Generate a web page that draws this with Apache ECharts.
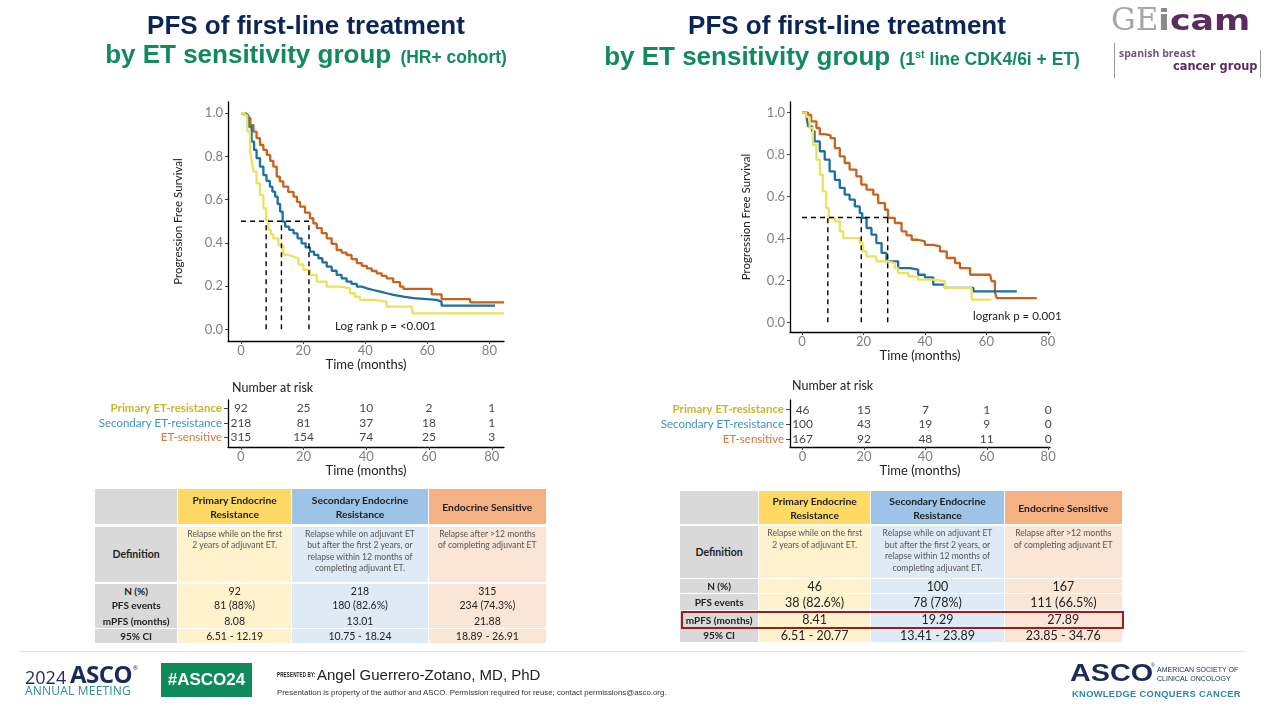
<!DOCTYPE html>
<html><head><meta charset="utf-8">
<script src="https://cdn.jsdelivr.net/npm/echarts@6.0.0/dist/echarts.min.js"></script>
<style>
html,body{margin:0;padding:0;background:#fff;}
#wrap{position:relative;width:1268px;height:714px;overflow:hidden;background:#fff;}
#chart{position:absolute;left:0;top:0;width:1268px;height:714px;}
.abs{position:absolute;white-space:nowrap;}
.ttl{position:absolute;width:1000px;text-align:center;font-family:'Liberation Sans',Arial,sans-serif;font-weight:bold;font-size:26px;line-height:26px;white-space:nowrap;}
.navy{color:#0b2559;}
.green{color:#138a5e;}
.cell{position:absolute;box-sizing:border-box;font-family:Lato,'Noto Sans',sans-serif;color:#222;display:flex;align-items:center;justify-content:center;text-align:center;white-space:pre-line;}
</style></head>
<body><div id="wrap">
<div id="chart"></div>
<div id="overlay"></div>
</div>
<script>
// ---------------- DATA ----------------
const groups = ['Primary ET-resistance', 'Secondary ET-resistance', 'ET-sensitive'];
const timeTicks = [0, 20, 40, 60, 80];
const survTicks = [0, 0.2, 0.4, 0.6, 0.8, 1.0];

// Left panel (HR+ cohort) – Kaplan-Meier estimates
const leftPrimaryT = [0,1.3,2,2.9,3.5,4,5,6.1,7.2,8.1,8.8,9.6,10.4,12,13.6,15.2,16.9,18.5,20.1,22.2,24.4,27.6,31.9,35.1,36.7,38.3,42.6,46.9,55,55.3,84.7];
const leftPrimaryS = [1,0.99,0.915,0.823,0.775,0.73,0.676,0.622,0.56,0.506,0.46,0.44,0.421,0.39,0.344,0.337,0.329,0.3,0.275,0.252,0.221,0.198,0.19,0.167,0.15,0.136,0.128,0.105,0.097,0.074,0.074];
const leftSecondaryT = [0,1.6,2.4,3.4,4.2,5.0,6.1,7.2,8.2,9.3,10.1,11,11.8,12.6,13.4,14.2,15.5,16.9,18.2,19.5,20.8,22.2,23.5,24.9,26.2,27.6,29.2,30.8,32.4,34,35.6,37.3,38.9,40.5,42.6,44.8,46.9,49.1,52.3,55.5,63,64.6,81.8];
const leftSecondaryS = [1,0.99,0.938,0.869,0.83,0.792,0.753,0.714,0.687,0.66,0.637,0.614,0.58,0.545,0.498,0.475,0.46,0.444,0.421,0.398,0.379,0.36,0.345,0.329,0.31,0.29,0.271,0.252,0.236,0.221,0.21,0.198,0.19,0.182,0.175,0.167,0.159,0.151,0.144,0.136,0.128,0.11,0.11];
const leftSensitiveT = [0,1,2,3,4,5,6.1,7.2,8.3,9.4,10.4,11.5,12.5,13.6,15.2,16.9,18,19,20.6,22.2,23.3,24.4,26,27.6,29.2,30.8,32.4,34,35.6,37.3,38.9,40.5,42.1,43.7,45.3,46.9,49,51.2,52.3,61.4,64.6,73.8,84.7];
const leftSensitiveS = [1,0.995,0.977,0.945,0.915,0.885,0.853,0.83,0.807,0.78,0.753,0.707,0.685,0.66,0.636,0.614,0.59,0.568,0.54,0.514,0.49,0.468,0.445,0.421,0.395,0.367,0.355,0.344,0.325,0.306,0.294,0.282,0.27,0.259,0.247,0.236,0.218,0.198,0.187,0.162,0.14,0.125,0.125];
const leftMedians = [8.08, 13.01, 21.88];
const leftRisk = [[92,25,10,2,1],[218,81,37,18,1],[315,154,74,25,3]];

// Right panel (1st line CDK4/6i + ET)
const rightPrimaryT = [0,1.4,2.5,3.6,4.7,5.8,6.8,7.9,8.7,10.7,12.3,13.4,17.7,18.8,19.9,21,24.2,28,30.2,31.3,34.6,37.8,42.7,46.5,55.2,61.7];
const rightPrimaryS = [1,0.98,0.927,0.847,0.776,0.704,0.625,0.545,0.498,0.482,0.434,0.402,0.402,0.378,0.339,0.315,0.291,0.283,0.259,0.235,0.219,0.204,0.196,0.164,0.108,0.108];
const rightSecondaryT = [0,1.4,2,3.3,4.1,5.8,7.4,9,10.7,12.3,13.9,15.5,17.2,18.8,19.6,21,22.6,24.2,25.9,27.5,30.2,31.3,35.1,37.8,40,42.7,46.5,55.8,69.9];
const rightSecondaryS = [1,0.987,0.935,0.911,0.863,0.816,0.776,0.72,0.68,0.641,0.609,0.585,0.553,0.521,0.498,0.45,0.418,0.378,0.331,0.291,0.291,0.259,0.251,0.227,0.215,0.18,0.164,0.148,0.148];
const rightSensitiveT = [0,2,3,4.7,5.8,7.4,9.3,10.7,12.3,13.9,15.5,17.7,19.3,21,23.2,24.8,27,28,30.2,32.4,34,35.7,37.8,40,42.7,44.9,47.1,49.8,51.4,54.7,61.2,61.7,62.8,63.4,76.4];
const rightSensitiveS = [1,0.99,0.959,0.927,0.898,0.892,0.879,0.831,0.792,0.76,0.728,0.696,0.657,0.633,0.609,0.569,0.537,0.498,0.474,0.434,0.415,0.394,0.386,0.37,0.362,0.339,0.307,0.283,0.259,0.227,0.227,0.196,0.14,0.116,0.116];
const rightMedians = [8.41, 19.29, 27.89];
const rightRisk = [[46,15,7,1,0],[100,43,19,9,0],[167,92,48,11,0]];

const leftLogRank = 'Log rank p = <0.001';
const rightLogRank = 'logrank p = 0.001';

// Tables
const tableHeaders = ['Primary Endocrine\nResistance', 'Secondary Endocrine\nResistance', 'Endocrine Sensitive'];
const tableRowLabels = ['Definition', 'N (%)', 'PFS events', 'mPFS (months)', '95% CI'];
const definitions = ['Relapse while on the first\n2 years of adjuvant ET.', 'Relapse while on adjuvant ET\nbut after the first 2 years, or\nrelapse within 12 months of\ncompleting adjuvant ET.', 'Relapse after >12 months\nof completing adjuvant ET'];
const leftN = ['92', '218', '315'];
const leftEvents = ['81 (88%)', '180 (82.6%)', '234 (74.3%)'];
const leftMPFS = ['8.08', '13.01', '21.88'];
const leftCI = ['6.51 - 12.19', '10.75 - 18.24', '18.89 - 26.91'];
const rightN = ['46', '100', '167'];
const rightEvents = ['38 (82.6%)', '78 (78%)', '111 (66.5%)'];
const rightMPFS = ['8.41', '19.29', '27.89'];
const rightCI = ['6.51 - 20.77', '13.41 - 23.89', '23.85 - 34.76'];

// ---------------- STYLE ----------------
const FONT = 'Lato, "Noto Sans", sans-serif';
const lineColors = ['#ebe15b', '#1b6fa2', '#c8631e'];
const labelColors = ['#c9b72c', '#3c92c2', '#d4773a'];

// ---------------- CHART ----------------
const chart = echarts.init(document.getElementById('chart'), null, {renderer: 'canvas'});

function xAxisCfg(gi, min, max, gap) {
  return {
    type: 'value', gridIndex: gi, min: min, max: max,
    axisLine: {show: true, onZero: false, lineStyle: {color: '#000', width: 1.3}},
    axisTick: {show: true, customValues: timeTicks, length: 3, lineStyle: {color: '#444'}},
    axisLabel: {customValues: timeTicks, color: '#808080', fontSize: 13, fontFamily: FONT, margin: 3},
    splitLine: {show: false},
    name: 'Time (months)', nameLocation: 'middle', nameGap: gap,
    nameTextStyle: {color: '#222', fontSize: 13, fontFamily: FONT}
  };
}
function kmYAxis(gi, min, max, gap) {
  return {
    type: 'value', gridIndex: gi, min: min, max: max,
    axisLine: {show: true, onZero: false, lineStyle: {color: '#000', width: 1.3}},
    axisTick: {show: true, customValues: survTicks, length: 3, lineStyle: {color: '#444'}},
    axisLabel: {customValues: survTicks, formatter: v => v.toFixed(1), color: '#808080', fontSize: 13, fontFamily: FONT, margin: 5},
    splitLine: {show: false},
    name: 'Progression Free Survival', nameLocation: 'middle', nameGap: gap, nameRotate: 90,
    nameTextStyle: {color: '#222', fontSize: 11.5, fontFamily: FONT}
  };
}
const rich = {};
groups.forEach((g, i) => { rich['g' + i] = {color: labelColors[i], fontSize: 11.5, fontFamily: FONT, fontWeight: i === 0 ? 'bold' : 'normal'}; });
function riskYAxis(gi, min, max) {
  return {
    type: 'value', gridIndex: gi, inverse: true, min: min, max: max,
    axisLine: {show: true, onZero: false, lineStyle: {color: '#000', width: 1.3}},
    axisTick: {show: true, customValues: [0, 1, 2], length: 4, lineStyle: {color: '#444'}},
    axisLabel: {customValues: [0, 1, 2], formatter: v => '{g' + v + '|' + groups[v] + '}', rich: rich, margin: 6},
    splitLine: {show: false}
  };
}
function km(name, T, S, color, ai) {
  return {type: 'line', name: name, xAxisIndex: ai, yAxisIndex: ai, step: 'end', symbol: 'none',
    data: T.map((t, i) => [t, S[i]]), lineStyle: {color: color, width: 2.3}, itemStyle: {color: color},
    silent: true, animation: false, z: 3};
}
function medianLines(meds, ai) {
  const out = [];
  const dash = {color: '#000', width: 1.4, type: [5, 4]};
  out.push({type: 'line', xAxisIndex: ai, yAxisIndex: ai, symbol: 'none', silent: true, animation: false, z: 4,
    data: [[0, 0.5], [Math.max.apply(null, meds), 0.5]], lineStyle: dash});
  meds.forEach(m => out.push({type: 'line', xAxisIndex: ai, yAxisIndex: ai, symbol: 'none', silent: true, animation: false, z: 4,
    data: [[m, 0], [m, 0.5]], lineStyle: dash}));
  return out;
}
function riskSeries(risk, ai) {
  const data = [];
  risk.forEach((row, g) => row.forEach((n, k) => data.push([timeTicks[k], g, n])));
  return {type: 'scatter', xAxisIndex: ai, yAxisIndex: ai, symbolSize: 1, itemStyle: {color: 'rgba(0,0,0,0)'},
    silent: true, animation: false, data: data,
    label: {show: true, position: 'inside', formatter: p => String(p.value[2]), color: '#111', fontSize: 12, fontFamily: FONT}};
}

const option = {
  animation: false,
  backgroundColor: 'transparent',
  grid: [
    {left: 228, top: 102, width: 276, height: 239, outerBoundsMode: 'none', containLabel: false},
    {left: 790, top: 102, width: 260, height: 230, outerBoundsMode: 'none', containLabel: false},
    {left: 228, top: 400, width: 276, height: 47, outerBoundsMode: 'none', containLabel: false},
    {left: 790, top: 400, width: 260, height: 47, outerBoundsMode: 'none', containLabel: false}
  ],
  xAxis: [
    xAxisCfg(0, -4.2, 84.7, 14),
    xAxisCfg(1, -3.9, 80.7, 14),
    xAxisCfg(2, -4.1, 83.9, 17),
    xAxisCfg(3, -4.1, 80.6, 17)
  ],
  yAxis: [
    kmYAxis(0, -0.054, 1.052, 44),
    kmYAxis(1, -0.046, 1.051, 38),
    riskYAxis(2, -0.57, 2.65),
    riskYAxis(3, -0.655, 2.54)
  ],
  series: [
    km(groups[2], leftSensitiveT, leftSensitiveS, lineColors[2], 0),
    km(groups[1], leftSecondaryT, leftSecondaryS, lineColors[1], 0),
    km(groups[0], leftPrimaryT, leftPrimaryS, lineColors[0], 0),
    km(groups[2], rightSensitiveT, rightSensitiveS, lineColors[2], 1),
    km(groups[1], rightSecondaryT, rightSecondaryS, lineColors[1], 1),
    km(groups[0], rightPrimaryT, rightPrimaryS, lineColors[0], 1),
    ...medianLines(leftMedians, 0),
    ...medianLines(rightMedians, 1),
    riskSeries(leftRisk, 2),
    riskSeries(rightRisk, 3)
  ],
  graphic: [
    {type: 'text', left: 232, top: 381, style: {text: 'Number at risk', fill: '#222', font: '12.5px ' + FONT}},
    {type: 'text', left: 792, top: 379, style: {text: 'Number at risk', fill: '#222', font: '12.5px ' + FONT}},
    {type: 'text', left: 335, top: 320, style: {text: leftLogRank, fill: '#222', font: '11.5px ' + FONT}},
    {type: 'text', left: 973, top: 310, style: {text: rightLogRank, fill: '#222', font: '11.5px ' + FONT}}
  ]
};
chart.setOption(option);

// ---------------- SLIDE DECORATION (HTML) ----------------
const ov = document.getElementById('overlay');
function add(html) { ov.insertAdjacentHTML('beforeend', html); }

// Titles
add('<div class="ttl navy" style="left:' + (306 - 500) + 'px;top:12px;">PFS of first-line treatment</div>');
add('<div class="ttl green" style="left:' + (306 - 500) + 'px;top:41px;">by ET sensitivity group <span style="font-size:17.5px;margin-left:2px;">(HR+ cohort)</span></div>');
add('<div class="ttl navy" style="left:' + (847 - 500) + 'px;top:12px;">PFS of first-line treatment</div>');
add('<div class="ttl green" style="left:' + (842 - 500) + 'px;top:41px;">by ET sensitivity group <span style="font-size:17.5px;margin-left:2px;">(1<sup style="font-size:11px;vertical-align:7px;">st</sup> line CDK4/6i + ET)</span></div>');

// GEICAM logo
add('<div class="abs" style="left:1111px;top:1px;line-height:36px;"><span style="font-family:\'DejaVu Serif\',serif;font-size:31px;color:#a6a6a6;">GE</span><span style="display:inline-block;font-family:\'DejaVu Sans\',sans-serif;font-weight:bold;font-size:29px;transform:scaleX(1.2);transform-origin:0 50%;"><span style="color:#8a8a8a;">i</span><span style="color:#5b2c5f;">cam</span></span></div>');
add('<div class="abs" style="left:1114px;top:43px;width:1px;height:35px;background:#9a9a9a;"></div>');
add('<div class="abs" style="left:1260px;top:50px;width:1px;height:28px;background:#9a9a9a;"></div>');
add('<div class="abs" style="left:1119px;top:46px;font-family:\'Open Sans\',sans-serif;font-weight:bold;font-size:10.5px;color:#6d5a72;">spanish breast</div>');
add('<div class="abs" style="left:1173px;top:59px;font-family:\'DejaVu Sans\',sans-serif;font-weight:bold;font-size:11.4px;color:#5b2c5f;">cancer group</div>');

// Tables
const headBg = ['#ffd966', '#9dc3e6', '#f4b183'];
const bodyBg = ['#fff2cc', '#deebf7', '#fbe5d6'];
const labelBg = '#d9d9d9';
function buildTable(cols, rows, vals, valSize, defSize) {
  add('<div class="cell" style="left:' + cols[0][0] + 'px;top:' + rows[0][0] + 'px;width:' + (cols[0][1] - cols[0][0]) + 'px;height:' + (rows[0][1] - rows[0][0]) + 'px;background:' + labelBg + ';"></div>');
  for (let c = 0; c < 3; c++) {
    const cx = cols[c + 1];
    add('<div class="cell" style="left:' + cx[0] + 'px;top:' + rows[0][0] + 'px;width:' + (cx[1] - cx[0]) + 'px;height:' + (rows[0][1] - rows[0][0]) + 'px;background:' + headBg[c] + ';font-weight:bold;font-size:10.3px;line-height:14px;color:#222;">' + tableHeaders[c] + '</div>');
  }
  for (let r = 1; r < rows.length; r++) {
    const ry = rows[r];
    const h = ry[1] - ry[0];
    add('<div class="cell" style="left:' + cols[0][0] + 'px;top:' + ry[0] + 'px;width:' + (cols[0][1] - cols[0][0]) + 'px;height:' + h + 'px;background:' + labelBg + ';font-weight:bold;font-size:' + (r === 1 ? 10.5 : 10) + 'px;color:#222;">' + tableRowLabels[r - 1] + '</div>');
    for (let c = 0; c < 3; c++) {
      const cx = cols[c + 1];
      let txt, st;
      if (r === 1) { txt = definitions[c]; st = 'align-items:flex-start;padding-top:2px;font-size:' + defSize + 'px;line-height:11.6px;color:#555;'; }
      else { txt = vals[r - 2][c]; st = 'font-size:' + valSize + 'px;color:#222;'; }
      add('<div class="cell" style="left:' + cx[0] + 'px;top:' + ry[0] + 'px;width:' + (cx[1] - cx[0]) + 'px;height:' + h + 'px;background:' + bodyBg[c] + ';' + st + '">' + txt + '</div>');
    }
  }
}
buildTable([[95, 177.3], [178.3, 291], [292.3, 427.7], [428.7, 546]],
  [[489, 524.3], [526.7, 582.3], [584, 597.7], [598.3, 612.7], [613.3, 628.3], [629.3, 643.3]],
  [leftN, leftEvents, leftMPFS, leftCI], 10.5, 8.6);
buildTable([[680, 758.3], [759.3, 870], [871, 1004], [1005, 1121.7]],
  [[491, 524.3], [526, 577.7], [579.3, 593.3], [594.3, 610], [611.7, 627.7], [628.3, 642.3]],
  [rightN, rightEvents, rightMPFS, rightCI], 12.5, 8.6);
add('<div class="abs" style="left:681px;top:610.5px;width:443px;height:18px;box-sizing:border-box;border:2px solid #a01c1c;"></div>');

// Footer
add('<div class="abs" style="left:20px;top:651px;width:1225px;height:1px;background:#e3e3e3;"></div>');
add('<div class="abs" style="left:25px;top:668px;font-family:\'Open Sans\',sans-serif;font-size:18px;line-height:18px;color:#1c2a5a;">2024</div>');
add('<div class="abs" style="left:70px;top:662px;font-family:\'Open Sans\',sans-serif;font-size:24px;line-height:24px;font-weight:bold;letter-spacing:-0.5px;color:#1c2a5a;">ASCO</div>');
add('<div class="abs" style="left:133px;top:665px;font-family:\'Open Sans\',sans-serif;font-size:6px;line-height:6px;color:#1c2a5a;">®</div>');
add('<div class="abs" style="left:25px;top:685px;font-family:\'Open Sans\',sans-serif;font-size:12px;line-height:12px;letter-spacing:0.2px;color:#2f8f96;">ANNUAL MEETING</div>');
add('<div class="abs" style="left:161px;top:663px;width:91px;height:34px;background:#0f8a5b;color:#fff;font-family:\'Liberation Sans\',Arial,sans-serif;font-weight:bold;font-size:17px;line-height:34px;text-align:center;">#ASCO24</div>');
add('<div class="abs" style="left:277px;top:671px;font-family:\'Liberation Sans\',Arial,sans-serif;font-weight:bold;font-size:6.5px;letter-spacing:0.2px;color:#222;transform:scaleX(0.7);transform-origin:0 50%;">PRESENTED BY:</div>');
add('<div class="abs" style="left:317px;top:666px;font-family:\'Liberation Sans\',Arial,sans-serif;font-size:15px;color:#222;">Angel Guerrero-Zotano, MD, PhD</div>');
add('<div class="abs" style="left:277px;top:688px;font-family:\'Liberation Sans\',Arial,sans-serif;font-size:7.85px;color:#333;">Presentation is property of the author and ASCO. Permission required for reuse; contact permissions@asco.org.</div>');
add('<div class="abs" style="left:1070px;top:659px;font-family:\'Liberation Sans\',Arial,sans-serif;font-weight:bold;font-size:24px;color:#1d2a57;transform:scaleX(1.2);transform-origin:0 50%;">ASCO</div>');
add('<div class="abs" style="left:1151px;top:662px;font-family:\'Liberation Sans\',Arial,sans-serif;font-size:5px;color:#1d2a57;">®</div>');
add('<div class="abs" style="left:1157px;top:665px;font-family:\'Liberation Sans\',Arial,sans-serif;font-size:7px;line-height:9px;color:#1d2a57;">AMERICAN SOCIETY OF<br>CLINICAL ONCOLOGY</div>');
add('<div class="abs" style="left:1072px;top:689px;font-family:\'Liberation Sans\',Arial,sans-serif;font-weight:bold;font-size:9.3px;letter-spacing:0.35px;color:#2d86a8;">KNOWLEDGE CONQUERS CANCER</div>');
</script>
</body></html>
